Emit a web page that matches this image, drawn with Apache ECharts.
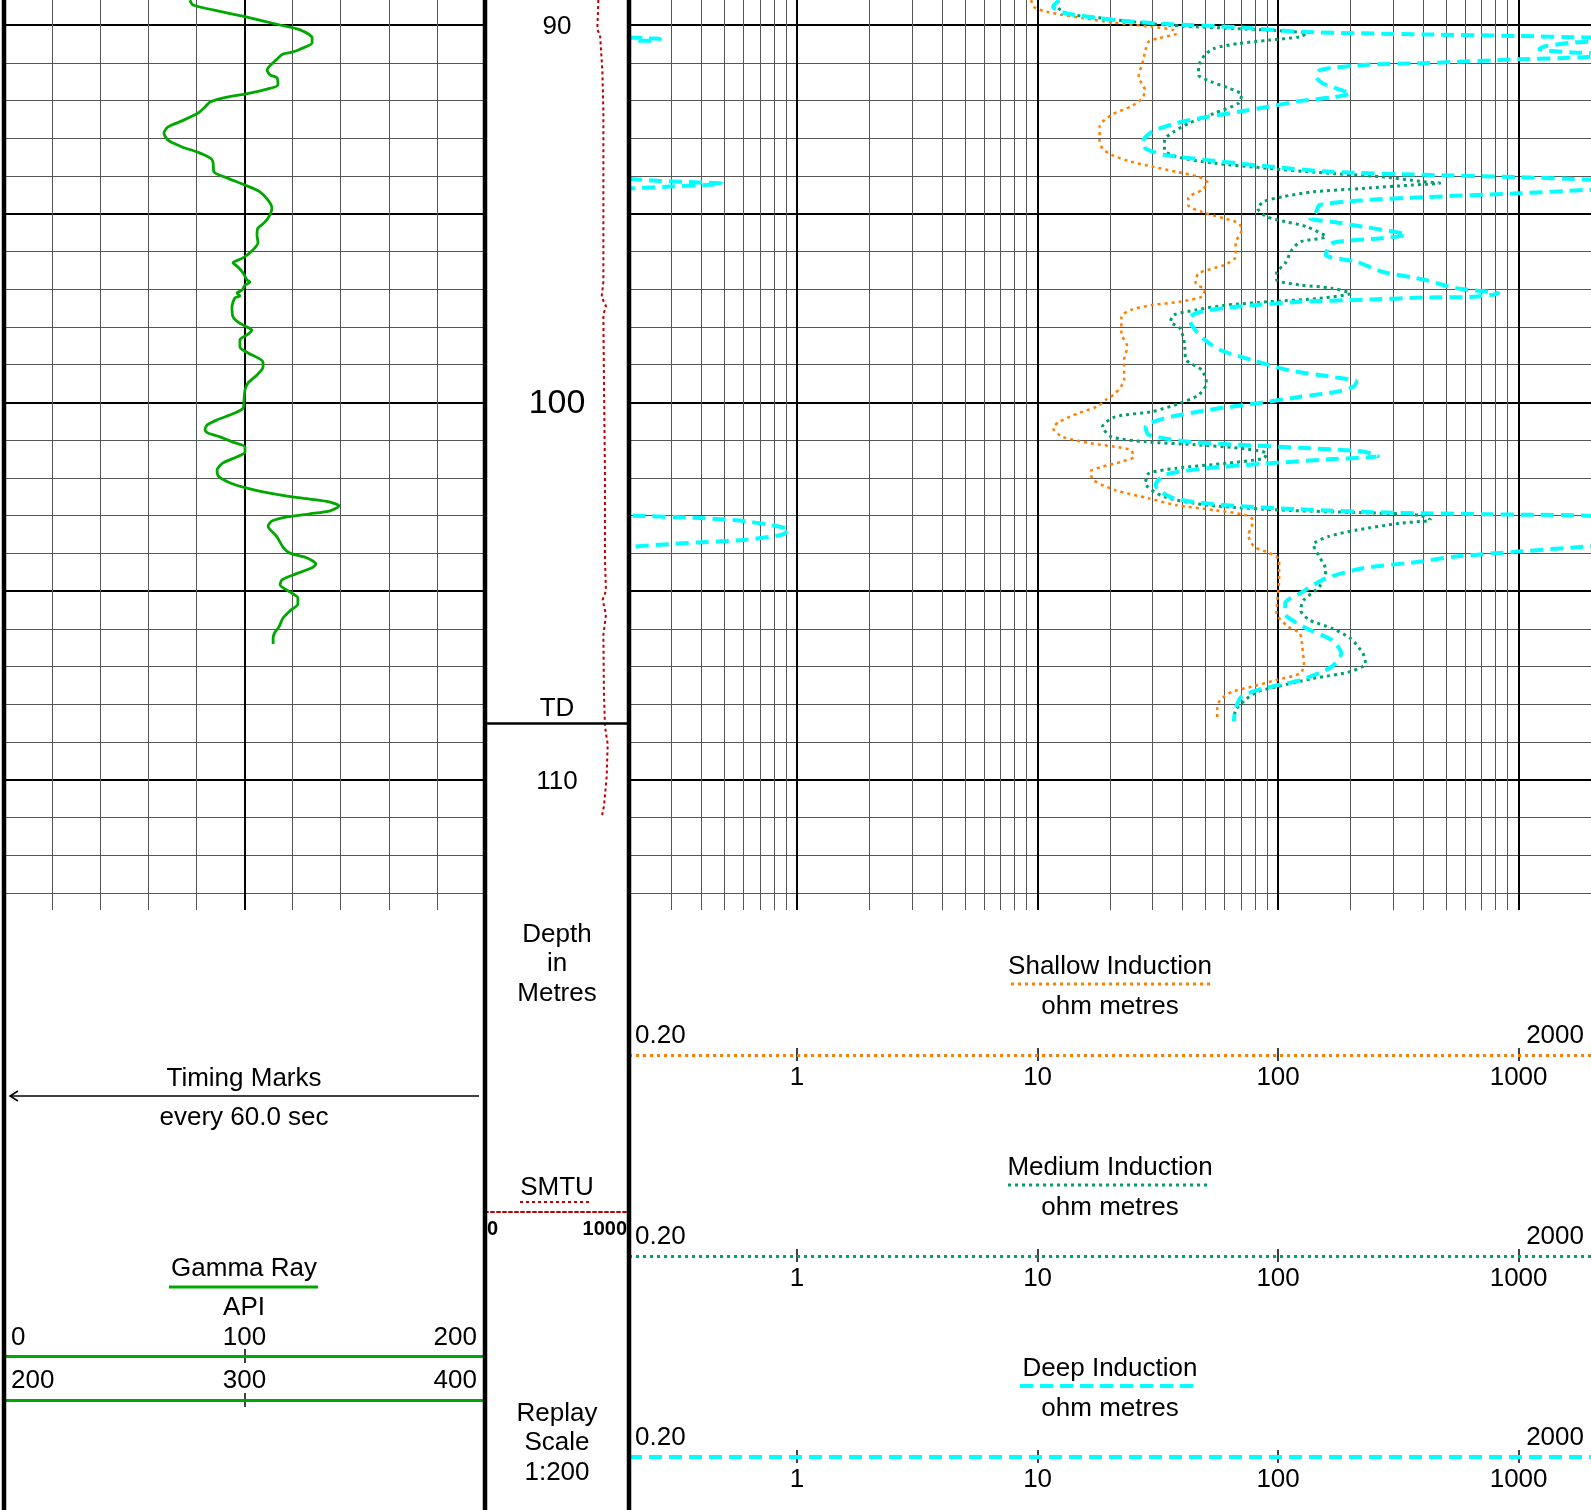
<!DOCTYPE html>
<html>
<head>
<meta charset="utf-8">
<title>Well log – Gamma Ray / Induction</title>
<script src="https://cdn.jsdelivr.net/npm/echarts@6/dist/echarts.min.js"></script>
<style>
  html, body { margin: 0; padding: 0; background: #fff; }
  #log { width: 1591px; height: 1510px; }
</style>
</head>
<body>
<div id="log"></div>
<script>
// ---- depth window (metres) -------------------------------------------
const DEPTH_TOP = 89.3377;
const DEPTH_BOTTOM = 113.444;
const TD_DEPTH = 108.5;
const depthMinorTicks = [90, 91, 92, 93, 94, 95, 96, 97, 98, 99, 100, 101, 102, 103, 104, 105, 106, 107, 108, 109, 110, 111, 112, 113];
const depthMajorTicks = [90, 95, 100, 105, 110];
const depthLabels = [90, 100, 110];

// ---- scale ticks --------------------------------------------------------
const resMinorTicks = [0.3, 0.4, 0.5, 0.6, 0.7, 0.8, 0.9, 1, 2, 3, 4, 5, 6, 7, 8, 9, 10, 20, 30, 40, 50, 60, 70, 80, 90, 100, 200, 300, 400, 500, 600, 700, 800, 900, 1000];
const resDecadeTicks = [1, 10, 100, 1000];
const resEndLabels = [0.2, 2000];
const grScaleTop = [0, 100, 200];
const grScaleBottom = [200, 300, 400];
const smtuScale = [0, 1000];

// ---- Gamma Ray (API) ----------------------------------------------------
const grDepth = [
  89.34, 89.47, 89.60, 89.78, 90.00, 90.13, 90.34, 90.48, 90.64, 90.72,
  90.77, 90.93, 91.19, 91.32, 91.40, 91.59, 91.70, 91.83, 91.91, 92.04,
  92.17, 92.33, 92.54, 92.70, 92.86, 93.05, 93.23, 93.36, 93.52, 93.63,
  93.89, 94.05, 94.24, 94.42, 94.64, 94.85, 95.03, 95.22, 95.38, 95.56,
  95.77, 95.96, 96.17, 96.30, 96.41, 96.57, 96.75, 96.81, 96.89, 97.02,
  97.10, 97.18, 97.23, 97.47, 97.73, 97.87, 98.00, 98.08, 98.21, 98.34,
  98.53, 98.69, 98.93, 99.06, 99.27, 99.48, 99.67, 99.93, 100.15, 100.30,
  100.46, 100.60, 100.73, 100.81, 100.91, 101.05, 101.18, 101.31, 101.44, 101.60,
  101.79, 101.97, 102.16, 102.27, 102.37, 102.48, 102.56, 102.64, 102.74, 102.87,
  102.95, 103.03, 103.14, 103.27, 103.56, 103.83, 103.99, 104.12, 104.28, 104.38,
  104.57, 104.70, 104.83, 105.02, 105.18, 105.34, 105.52, 105.71, 105.95, 106.08,
  106.24, 106.40
];
const grApi = [
  77.3, 78.6, 86.9, 100.2, 114.8, 123.1, 128.1, 128.1, 123.1, 119.8,
  116.0, 113.1, 109.4, 110.6, 113.5, 113.9, 109.4, 100.2, 92.7, 85.7,
  83.6, 80.7, 74.0, 68.2, 66.5, 68.2, 74.0, 80.2, 85.7, 86.9,
  87.3, 92.7, 100.2, 106.4, 109.8, 111.4, 110.6, 108.5, 105.6, 105.2,
  105.6, 103.5, 99.4, 95.2, 97.3, 99.4, 101.0, 102.3, 100.2, 99.0,
  96.9, 98.1, 96.0, 94.8, 95.2, 97.3, 101.0, 103.1, 101.0, 98.1,
  98.1, 101.5, 107.7, 107.7, 105.2, 101.5, 100.2, 99.8, 99.4, 95.2,
  88.6, 84.4, 83.6, 84.8, 89.8, 95.2, 100.2, 100.2, 96.9, 91.1,
  88.6, 89.4, 95.2, 101.0, 107.7, 117.7, 127.2, 135.6, 139.3, 135.6,
  127.2, 117.7, 111.4, 109.8, 113.5, 116.0, 118.9, 126.0, 129.7, 128.1,
  120.2, 115.6, 114.8, 118.9, 122.2, 122.2, 118.9, 116.0, 114.3, 112.7,
  111.9, 111.9
];

// ---- SMTU -----------------------------------------------------------------
const smtuDepth = [89.34, 89.80, 90.12, 90.27, 91.21, 92.30, 94.01, 96.81, 97.20, 97.45, 97.67, 99.46, 101.80, 104.14, 104.99, 105.23, 105.62, 106.16, 107.72, 108.58, 109.05, 109.91, 110.69, 111.00];
const smtuValue = [787, 783, 780, 799, 815, 822, 822, 822, 810, 840, 822, 826, 833, 833, 840, 817, 840, 822, 826, 833, 852, 845, 826, 810];

// ---- Shallow Induction (ohm m) -------------------------------------------
const shallowDepth = [
  89.34, 89.52, 89.65, 89.82, 89.94, 90.05, 90.13, 90.22, 90.35, 90.44,
  90.66, 91.01, 91.37, 91.72, 91.94, 92.16, 92.38, 92.69, 93.05, 93.27,
  93.44, 93.62, 93.75, 93.89, 94.02, 94.18, 94.37, 94.59, 94.77, 94.95,
  95.12, 95.25, 95.43, 95.78, 96.14, 96.36, 96.58, 96.84, 97.02, 97.20,
  97.33, 97.42, 97.55, 97.73, 98.17, 98.52, 98.87, 99.40, 99.76, 99.93,
  100.11, 100.29, 100.51, 100.68, 100.91, 101.08, 101.17, 101.26, 101.44, 101.57,
  101.70, 101.83, 102.05, 102.32, 102.54, 102.72, 102.85, 102.98, 103.11, 103.29,
  103.51, 103.82, 103.99, 104.17, 104.70, 105.14, 105.58, 105.94, 106.11, 106.47,
  106.91, 107.17, 107.35, 107.53, 107.66, 107.88, 108.15, 108.41
];
const shallowRes = [
  9.4, 9.65, 10.9, 15.5, 20.9, 29.9, 36.8, 37.8, 31.8, 29.0,
  28.1, 27.3, 26.3, 27.9, 27.3, 24.4, 20.3, 18.1, 18.1, 18.6,
  20.3, 24.4, 29.9, 37.8, 46.7, 51.0, 48.1, 42.3, 42.3, 48.1,
  59.4, 68.5, 70.5, 66.6, 66.6, 59.4, 46.7, 45.4, 49.5, 48.1,
  39.0, 29.9, 24.4, 22.3, 22.3, 23.6, 22.9, 22.9, 21.0, 19.2,
  17.6, 14.7, 12.3, 11.6, 12.7, 16.6, 20.9, 24.4, 25.1, 22.3,
  18.6, 16.6, 17.0, 21.0, 29.0, 37.8, 54.2, 72.9, 78.4, 77.6,
  75.2, 79.5, 92.0, 101, 101, 99.5, 98.5, 110, 123, 126,
  128, 124, 98.5, 77.4, 64.6, 57.5, 55.8, 55.8
];

// ---- Medium Induction (ohm m) --------------------------------------------
const mediumDepth = [
  89.43, 89.69, 89.82, 89.95, 90.03, 90.09, 90.15, 90.22, 90.31, 90.40,
  90.49, 90.62, 90.80, 91.11, 91.32, 91.50, 91.68, 91.85, 92.07, 92.34,
  92.60, 92.83, 93.05, 93.31, 93.49, 93.66, 93.80, 93.91, 94.02, 94.15,
  94.19, 94.24, 94.33, 94.42, 94.55, 94.68, 94.86, 95.08, 95.21, 95.34,
  95.61, 95.74, 95.96, 96.31, 96.58, 96.75, 96.89, 96.97, 97.11, 97.24,
  97.33, 97.42, 97.55, 97.68, 97.86, 98.03, 98.43, 98.87, 99.14, 99.49,
  99.80, 100.02, 100.24, 100.38, 100.64, 100.91, 101.04, 101.12, 101.21, 101.35,
  101.48, 101.61, 101.74, 101.88, 102.14, 102.50, 102.72, 102.85, 102.92, 102.98,
  103.11, 103.20, 103.38, 103.55, 103.77, 104.04, 104.44, 104.88, 105.23, 105.50,
  105.76, 105.98, 106.25, 106.64, 106.91, 107.13, 107.31, 107.53, 107.66, 107.88,
  108.15, 108.42
];
const mediumRes = [
  11.6, 13.1, 18.6, 28.1, 40.3, 64.6, 98.5, 131, 124, 92,
  68.5, 54.2, 49.5, 46.7, 46.7, 52.5, 62.8, 70.5, 68.5, 54.2,
  42.7, 36.8, 33.7, 33.7, 37.8, 54.2, 92, 148.5, 269, 400,
  470, 360, 225, 140, 104, 87.2, 82.3, 89.7, 107, 131,
  158, 124, 114, 107, 98.5, 98.5, 124, 167, 200, 149,
  92, 61.1, 45.4, 36.8, 35.7, 39.1, 40.8, 41.5, 48.1, 50.4,
  46.7, 39.1, 29.9, 21.0, 18.6, 20.3, 28.1, 45.4, 68.5, 89.7,
  87.2, 61.1, 37.8, 29.0, 28.1, 33.7, 51.0, 104, 225, 383,
  431, 320, 212, 162, 140, 147, 158, 148.5, 128, 124,
  135, 167, 200, 225, 231, 200, 140, 98.5, 82.3, 72.9,
  66.6, 65.4
];

// ---- Deep Induction (ohm m) ----------------------------------------------
const deepDepth = [
  89.34, 89.52, 89.69, 89.87, 89.97, 90.06, 90.18, 90.25, 90.29, 90.33,
  90.36, 90.42, 90.46, 90.57, 90.64, 90.72, 90.77, 90.82, 90.86, 90.91,
  91.01, 91.06, 91.19, 91.37, 91.54, 91.72, 91.81, 91.92, 92.01, 92.16,
  92.30, 92.43, 92.60, 92.83, 93.09, 93.27, 93.44, 93.58, 93.75, 93.89,
  93.97, 94.03, 94.09, 94.16, 94.29, 94.37, 94.46, 94.56, 94.64, 94.77,
  94.95, 95.12, 95.21, 95.34, 95.56, 95.65, 95.78, 96.09, 96.27, 96.53,
  96.75, 96.97, 97.11, 97.20, 97.22, 97.28, 97.33, 97.46, 97.59, 97.77,
  97.99, 98.34, 98.61, 98.87, 99.14, 99.32, 99.45, 99.58, 99.71, 99.85,
  100.02, 100.20, 100.42, 100.64, 100.86, 101.04, 101.12, 101.20, 101.30, 101.42,
  101.50, 101.61, 101.74, 101.92, 102.19, 102.54, 102.72, 102.83, 102.92, 102.96,
  103.00, 103.11, 103.38, 103.72, 103.82, 103.95, 104.08, 104.22, 104.39, 104.66,
  105.05, 105.32, 105.58, 105.98, 106.29, 106.64, 107.00, 107.35, 107.57, 107.79,
  108.10, 108.45
];
const deepRes = [
  12.3, 11.6, 13.1, 21.0, 33.7, 68.5, 124, 407, 990, 1900,
  2760, 2390, 1710, 1280, 1220, 1630, 2390, 2170, 1790, 990,
  407, 225, 150, 144, 153, 182, 200, 167, 124, 92,
  68.5, 51.0, 37.8, 29.9, 27.3, 28.1, 33.7, 51.0, 92, 167,
  407, 990, 1900, 3180, 3180, 1900, 990, 407, 225, 148.5,
  144, 136, 167, 225, 340, 269, 167, 158, 212, 269,
  407, 548, 825, 654, 407, 225, 124, 68.5, 48.1, 42.7,
  44.1, 49.5, 57.5, 77.4, 110, 167, 212, 206, 177, 124,
  82.3, 51.0, 33.7, 28.1, 29.0, 42.7, 68.5, 124, 225, 260,
  167, 92, 51.0, 33.7, 30.9, 36.8, 61.1, 124, 302, 736,
  1950, 3500, 9260, 3500, 1900, 990, 548, 384, 225, 158,
  124, 107, 107, 131, 167, 183, 167, 124, 87.2, 70.5,
  66.6, 65.4
];

// Deep Induction backup trace: readings above 2000 replotted at 1/10000
const deepWrapDepth = [
  [90.33, 90.35, 90.37, 90.41, 90.42, 90.44],
  [94.08, 94.13, 94.17, 94.20, 94.24, 94.28, 94.33],
  [103.00, 103.06, 103.16, 103.38, 103.51, 103.64, 103.73, 103.82]
];
const deepWrapRes = [
  [0.2, 0.233, 0.269, 0.256, 0.222, 0.2],
  [0.2, 0.269, 0.394, 0.487, 0.414, 0.296, 0.2],
  [0.207, 0.397, 0.636, 0.926, 0.857, 0.602, 0.332, 0.207]
];

// ---- styling ---------------------------------------------------------------
const FONT = '"Liberation Sans", Arial, Helvetica, sans-serif';
const FS = 26;
const GR_COLOR = '#00a800';
const SHALLOW_COLOR = '#ff8000';
const MEDIUM_COLOR = '#00a070';
const DEEP_COLOR = '#00ffff';
const SMTU_COLOR = '#c00000';
const SHALLOW_DASH = [3, 4];
const MEDIUM_DASH = [3, 4];
const DEEP_DASH = [13, 7];
const SMTU_DASH = [3, 3];
const MINOR = { color: '#555', width: 1 };
const MAJOR = { color: '#000', width: 2 };

const pairs = (xs, ys) => xs.map((x, i) => [x, ys[i]]);
const fmtNum = v => (v === 0 ? '0' : v < 1 ? v.toFixed(2) : String(Math.round(v)));

const noAxisParts = { axisLine: { show: false }, axisTick: { show: false }, axisLabel: { show: false } };
const depthAxis = (gridIndex, extra) => Object.assign({
  gridIndex, type: 'value', min: DEPTH_TOP, max: DEPTH_BOTTOM, inverse: true,
  axisLine: { show: false }, axisLabel: { show: false }
}, extra);

// labels sitting flush with the track edges
function edgeLabel(size, margin, padL, padR, bold, values) {
  const w = bold ? 'bold' : 'normal';
  const first = values[0];
  const last = values[values.length - 1];
  return {
    show: true, margin, fontSize: size, fontFamily: FONT, fontWeight: w, color: '#000',
    alignMinLabel: 'left', alignMaxLabel: 'right',
    customValues: values,
    formatter: v => {
      const s = fmtNum(v);
      if (Math.abs(v - first) < 1e-6 * Math.max(1, first)) return '{l|' + s + '}';
      if (Math.abs(v - last) < 1e-6 * last) return '{r|' + s + '}';
      return s;
    },
    rich: {
      l: { padding: [0, 0, 0, padL], fontSize: size, fontFamily: FONT, fontWeight: w, color: '#000' },
      r: { padding: [0, padR, 0, 0], fontSize: size, fontFamily: FONT, fontWeight: w, color: '#000' }
    }
  };
}

// resistivity header scale bar (grid index g, line colour and dash)
function resScaleAxes(g, color, dash, width) {
  return [
    {
      gridIndex: g, type: 'log', logBase: 10, min: 0.2, max: 2000, position: 'bottom', offset: -7,
      axisLine: { show: true, lineStyle: { color, width, type: dash, cap: 'butt' } },
      axisTick: { show: false, customValues: resDecadeTicks },
      splitLine: { show: true, lineStyle: { color: '#000', width: 1.5 } },
      axisLabel: {
        show: true, margin: 11, fontSize: FS, fontFamily: FONT, color: '#000',
        customValues: resDecadeTicks, formatter: v => fmtNum(v)
      }
    },
    {
      gridIndex: g, type: 'log', logBase: 10, min: 0.2, max: 2000, position: 'top',
      axisLine: { show: false }, axisTick: { show: false }, splitLine: { show: false },
      axisLabel: edgeLabel(FS, -1, 6, 7, false, resEndLabels)
    }
  ];
}

const grids = [
  { left: 4, top: 0, width: 481, height: 910 },     // 0 gamma ray track
  { left: 485, top: 0, width: 144, height: 910 },   // 1 depth track
  { left: 629, top: 0, width: 962, height: 910 },   // 2 resistivity track
  { left: 4, top: 1349, width: 481, height: 14 },   // 3 GR scale 0-200
  { left: 4, top: 1393, width: 481, height: 14 },   // 4 GR scale 200-400
  { left: 485, top: 1200, width: 144, height: 12 }, // 5 SMTU scale
  { left: 629, top: 1048, width: 962, height: 13 }, // 6 shallow scale
  { left: 629, top: 1249, width: 962, height: 13 }, // 7 medium scale
  { left: 629, top: 1450, width: 962, height: 13 }  // 8 deep scale
].map(g => Object.assign({ containLabel: false, outerBoundsMode: 'none' }, g));

const xAxes = [
  // gamma ray track grid
  Object.assign({ gridIndex: 0, type: 'value', min: 0, max: 200, interval: 20 }, noAxisParts,
    { splitLine: { show: true, lineStyle: MINOR } }),
  Object.assign({ gridIndex: 0, type: 'value', min: 0, max: 200, interval: 100, position: 'top' }, noAxisParts,
    { splitLine: { show: true, lineStyle: MAJOR } }),
  // SMTU on the depth track
  Object.assign({ gridIndex: 1, type: 'value', min: 0, max: 1000 }, noAxisParts, { splitLine: { show: false } }),
  // resistivity track grid
  { gridIndex: 2, type: 'log', logBase: 10, min: 0.2, max: 2000,
    axisLine: { show: false }, axisLabel: { show: false },
    axisTick: { show: false, customValues: resMinorTicks },
    splitLine: { show: true, lineStyle: MINOR } },
  { gridIndex: 2, type: 'log', logBase: 10, min: 0.2, max: 2000, position: 'top',
    axisLine: { show: false }, axisLabel: { show: false },
    axisTick: { show: false, customValues: resDecadeTicks },
    splitLine: { show: true, lineStyle: MAJOR } },
  // gamma ray header scales
  { gridIndex: 3, type: 'value', min: 0, max: 200, interval: 100, position: 'top', offset: -7,
    axisLine: { show: true, lineStyle: { color: GR_COLOR, width: 3 } }, axisTick: { show: false },
    splitLine: { show: true, lineStyle: { color: '#000', width: 1.5 } },
    axisLabel: edgeLabel(FS, 5, 7, 8, false, grScaleTop) },
  { gridIndex: 4, type: 'value', min: 200, max: 400, interval: 100, position: 'top', offset: -7,
    axisLine: { show: true, lineStyle: { color: GR_COLOR, width: 3 } }, axisTick: { show: false },
    splitLine: { show: true, lineStyle: { color: '#000', width: 1.5 } },
    axisLabel: edgeLabel(FS, 6, 7, 8, false, grScaleBottom) },
  // SMTU header scale
  { gridIndex: 5, type: 'value', min: 0, max: 1000, interval: 1000, position: 'bottom',
    axisLine: { show: true, lineStyle: { color: SMTU_COLOR, width: 2, type: SMTU_DASH } },
    axisTick: { show: false }, splitLine: { show: false },
    axisLabel: edgeLabel(20, 7, 2, 2, true, smtuScale) }
].concat(
  resScaleAxes(6, SHALLOW_COLOR, SHALLOW_DASH, 3),
  resScaleAxes(7, MEDIUM_COLOR, MEDIUM_DASH, 3),
  resScaleAxes(8, DEEP_COLOR, DEEP_DASH, 4)
);

const yAxes = [
  depthAxis(0, { axisTick: { show: false, customValues: depthMinorTicks }, splitLine: { show: true, lineStyle: MINOR } }),
  depthAxis(0, { position: 'right', axisTick: { show: false, customValues: depthMajorTicks }, splitLine: { show: true, lineStyle: MAJOR } }),
  depthAxis(1, {
    axisTick: { show: false }, splitLine: { show: false },
    axisLabel: {
      show: true, inside: true, margin: 72, align: 'center', verticalAlign: 'middle',
      customValues: depthLabels, fontSize: FS, fontFamily: FONT, color: '#000', padding: [3, 0, 0, 0],
      formatter: v => (Math.round(v) === 100 ? '{big|100}' : String(Math.round(v))),
      rich: { big: { fontSize: 34, fontFamily: FONT, color: '#000' } }
    }
  }),
  depthAxis(2, { axisTick: { show: false, customValues: depthMinorTicks }, splitLine: { show: true, lineStyle: MINOR } }),
  depthAxis(2, { position: 'right', axisTick: { show: false, customValues: depthMajorTicks }, splitLine: { show: true, lineStyle: MAJOR } })
];
for (let g = 3; g <= 8; g++) yAxes.push({ gridIndex: g, type: 'value', show: false });

const curve = (name, xi, yi, data, color, width, dash, z) => ({
  name, type: 'line', xAxisIndex: xi, yAxisIndex: yi, data,
  symbol: 'none', smooth: 0.25, silent: true, clip: true, z: z || 3,
  lineStyle: { color, width, type: dash, cap: 'butt', join: 'round' }
});

const series = [
  curve('Gamma Ray', 0, 0, pairs(grApi, grDepth), GR_COLOR, 2.8, 'solid'),
  Object.assign(curve('SMTU', 2, 2, pairs(smtuValue, smtuDepth), SMTU_COLOR, 2, SMTU_DASH), {
    smooth: false,
    markLine: {
      silent: true, symbol: 'none', animation: false,
      lineStyle: { color: '#000', width: 2.5, type: 'solid' },
      label: { show: true, position: 'insideMiddleTop', distance: 2, formatter: 'TD', color: '#000', fontSize: FS, fontFamily: FONT },
      emphasis: { disabled: true },
      data: [{ yAxis: TD_DEPTH }]
    }
  }),
  curve('Shallow Induction', 3, 3, pairs(shallowRes, shallowDepth), SHALLOW_COLOR, 2.5, SHALLOW_DASH, 3),
  curve('Medium Induction', 3, 3, pairs(mediumRes, mediumDepth), MEDIUM_COLOR, 3, MEDIUM_DASH, 4),
  curve('Deep Induction', 3, 3, pairs(deepRes, deepDepth), DEEP_COLOR, 4, DEEP_DASH, 5)
].concat(deepWrapDepth.map((d, i) =>
  curve('Deep Induction backup ' + (i + 1), 3, 3, pairs(deepWrapRes[i], d), DEEP_COLOR, 4, DEEP_DASH, 5)));

// ---- header texts, track borders ------------------------------------------
const txt = (text, x, y, size) => ({
  type: 'text', x, y, z: 60, silent: true,
  style: { text, fontSize: size || FS, fontFamily: FONT, fill: '#000', align: 'center', verticalAlign: 'middle' }
});
const seg = (x1, y1, x2, y2, stroke, lineWidth, lineDash) => ({
  type: 'line', z: 60, silent: true, shape: { x1, y1, x2, y2 },
  style: { stroke, lineWidth, lineDash: lineDash || null }
});

const graphics = [
  // track borders
  seg(4, 0, 4, 1510, '#000', 4.5),
  seg(485, 0, 485, 1510, '#000', 4.5),
  seg(629, 0, 629, 1510, '#000', 4.5),
  // timing marks
  txt('Timing Marks', 244, 1079),
  seg(10, 1096, 479, 1096, '#000', 1.5),
  { type: 'polyline', z: 60, silent: true, shape: { points: [[18, 1091], [10, 1096], [18, 1101]] },
    style: { stroke: '#000', lineWidth: 1.5, fill: null } },
  txt('every 60.0 sec', 244, 1118),
  // gamma ray header
  txt('Gamma Ray', 244, 1269),
  seg(169, 1287, 318, 1287, GR_COLOR, 3),
  txt('API', 244, 1308),
  // depth track header
  txt('Depth', 557, 935), txt('in', 557, 964), txt('Metres', 557, 994),
  txt('SMTU', 557, 1188),
  seg(520, 1202, 591, 1202, SMTU_COLOR, 2, SMTU_DASH),
  txt('Replay', 557, 1414), txt('Scale', 557, 1443), txt('1:200', 557, 1473),
  // resistivity headers
  txt('Shallow Induction', 1110, 967),
  seg(1011, 984, 1210, 984, SHALLOW_COLOR, 3, SHALLOW_DASH),
  txt('ohm metres', 1110, 1007),
  txt('Medium Induction', 1110, 1168),
  seg(1008, 1185, 1211, 1185, MEDIUM_COLOR, 3, MEDIUM_DASH),
  txt('ohm metres', 1110, 1208),
  txt('Deep Induction', 1110, 1369),
  seg(1020, 1386, 1200, 1386, DEEP_COLOR, 4, DEEP_DASH),
  txt('ohm metres', 1110, 1409)
];

const chart = echarts.init(document.getElementById('log'), null, { renderer: 'canvas' });
chart.setOption({
  animation: false,
  backgroundColor: '#fff',
  textStyle: { fontFamily: FONT },
  grid: grids,
  xAxis: xAxes,
  yAxis: yAxes,
  series,
  graphic: graphics
});
</script>
</body>
</html>
